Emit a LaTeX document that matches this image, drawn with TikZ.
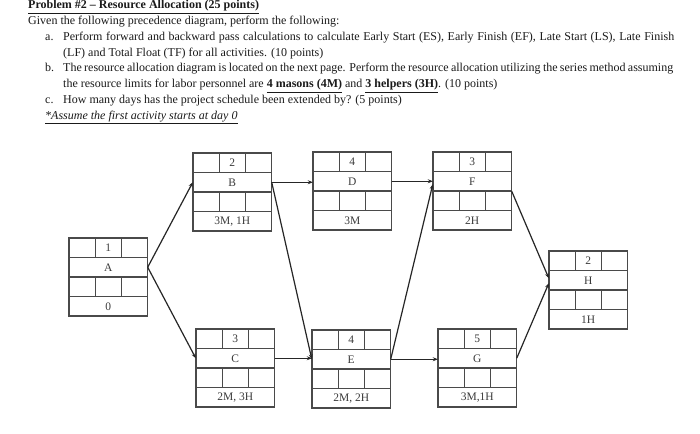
\documentclass[tikz,border=0pt]{standalone}
\usepackage{fontspec}
\setmainfont{Liberation Serif}
\usetikzlibrary{arrows.meta}
\definecolor{txt}{HTML}{1A1A1A}
\definecolor{boxc}{HTML}{4A4A4A}
\definecolor{linec}{HTML}{262626}
\tikzset{
  boxline/.style={draw=boxc, line width=1.3pt},
  boxtxt/.style={font=\fontsize{11.5}{13}\selectfont, text=boxc!80!black, inner sep=0pt},
  para/.style={anchor=base west, inner sep=0pt, text=txt, font=\fontsize{12}{14}\selectfont},
  conn/.style={draw=linec, line width=1.2pt, -{Stealth[length=5pt,width=4pt]}}
}
\newcommand\actbox[6]{%
\begin{scope}[shift={(#2,#3)}]
\draw[boxline] (0,0) rectangle (78.5,78);
\draw[boxline] (0,19.5)--(78.5,19.5) (0,39)--(78.5,39) (0,58.5)--(78.5,58.5)
  (26.2,0)--(26.2,19.5) (52.3,0)--(52.3,19.5) (26.2,39)--(26.2,58.5) (52.3,39)--(52.3,58.5);
\node[boxtxt] (#1d) at (39.25,9.75) {#4};
\node[boxtxt, minimum width=78.5pt, minimum height=19.5pt] (#1) at (39.25,29.25) {#5};
\node[boxtxt] (#1r) at (39.25,68.25) {#6};
\end{scope}}
\begin{document}
\begin{tikzpicture}[x=1pt,y=-1pt]
\useasboundingbox[fill=white] (0,0) rectangle (700,433);
% text
\node[para] (t0) at (28,9) {\textbf{\underline{Problem \#2 – Resource Allocation (25 points)}}};
\node[para] (t1) at (28,25) {Given the following precedence diagram, perform the following:};
\node[para] (la) at (45,41) {a.};
\node[para] (t2) at (63,41) {\makebox[611pt][s]{Perform forward and backward pass calculations to calculate Early Start (ES), Early Finish (EF), Late Start (LS), Late Finish}};
\node[para] (t3) at (63,57) {(LF) and Total Float (TF) for all activities. (10 points)};
\node[para] (lb) at (45,72) {b.};
\node[para] (t4) at (63,72) {\makebox[610pt][s]{The resource allocation diagram is located on the next page. Perform the resource allocation utilizing the series method assuming}};
\node[para] (t5) at (63,88) {the resource limits for labor personnel are \textbf{\underline{4 masons (4M)}} and \textbf{\underline{3 helpers (3H)}}. (10 points)};
\node[para] (lc) at (45,103) {c.};
\node[para] (t6) at (63,103) {How many days has the project schedule been extended by? (5 points)};
\node[para] (t7) at (45,119) {\textit{\underline{*Assume the first activity starts at day 0}}};
% activity boxes
\actbox{A}{69}{238}{1}{A}{0}
\actbox{B}{193}{153}{2}{B}{3M, 1H}
\actbox{D}{313}{152}{4}{D}{3M}
\actbox{F}{433}{152}{3}{F}{2H}
\actbox{H}{549}{251}{2}{H}{1H}
\actbox{C}{196}{329}{3}{C}{2M, 3H}
\actbox{E}{312}{330}{4}{E}{2M, 2H}
\actbox{G}{438}{329}{5}{G}{3M,1H}
% connectors
\draw[conn] (A.east) -- (B.west);
\draw[conn] (A.east) -- (C.west);
\draw[conn] (B.east) -- (B.east -| D.west);
\draw[conn] (B.east) -- (E.west);
\draw[conn] (C.east) -- (C.east -| E.west);
\draw[conn] (D.east) -- (D.east -| F.west);
\draw[conn] (E.east) -- ([yshift=-3pt]F.west);
\draw[conn] (E.east) -- (E.east -| G.west);
\draw[conn] (F.south east) -- ([yshift=2pt]H.west);
\draw[conn] (G.east) -- ([yshift=-3pt]H.west);
\end{tikzpicture}
\end{document}
